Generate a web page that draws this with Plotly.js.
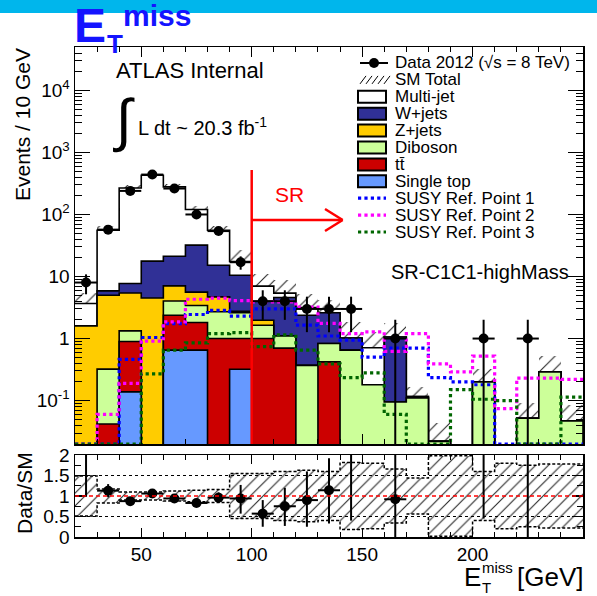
<!DOCTYPE html>
<html><head><meta charset="utf-8">
<script src="https://cdn.plot.ly/plotly-3.0.1.min.js"></script>
<style>html,body{margin:0;padding:0;background:#fff}#plot{width:597px;height:596px}</style>
</head><body><div id="plot"></div>
<script>
// ---------------- data ----------------
const binCenters = [25,35,45,55,65,75,85,95,105,115,125,135,145,155,165,175,185,195,205,215,225,235,245];
const binEdges   = [20,30,40,50,60,70,80,90,100,110,120,130,140,150,160,170,180,190,200,210,220,230,240,250];

const singleTop = [null,null,0.138,null,0.65,0.65,null,0.32,null,null,null,null,null,null,null,null,null,null,null,null,null,null,null];
const ttbar     = [null,0.042,0.76,null,1.73,1.16,1.0,0.68,1.0,0.7,null,0.42,null,null,null,null,null,null,null,null,null,null,null];
const diboson   = [null,0.28,0.43,null,1.66,1.6,1.7,1.6,0.64,0.4,0.37,0.41,0.65,0.18,0.095,0.11,0.022,null,0.2,null,0.052,0.29,0.047];
const zjets     = [1.6,4.67,4.11,4.5,3.02,2.2,2.0,0.15,0.33,null,null,null,null,null,null,null,null,null,null,null,null,null,null];
const wjets     = [null,0.87,2.26,13.2,14.1,26.4,10.5,7.75,2.03,3.5,2.0,1.77,0.37,null,0.965,0.006,null,null,null,null,null,null,null];
const multijet  = [2.07,49.9,260,412,258,88,40.6,7.0,3.0,0.8,0.8,null,null,0.53,null,null,null,null,null,null,null,null,null];

const dataCounts = [8,57,240,440,262,100,54,17,4,4,3,3,3,null,1,null,null,null,1,null,1,null,null];
const smRelErr   = [0.49,0.17,0.1,0.1,0.12,0.14,0.16,0.55,0.55,0.6,0.63,0.6,0.82,0.8,0.66,0.44,0.98,0.98,0.6,0.8,0.75,0.78,0.78];

const susy1 = [0,0,0.46,1.04,1.74,2.44,2.86,2.3,3.0,3.0,1.64,1.1,0.94,0.5,0.7,0.7,0.235,0.2,0.18,0,0,0,0];
const susy2 = [0,0.06,0.19,0.91,1.85,4.3,4.5,4.1,3.9,3.9,3.2,1.76,1.2,1.28,0.62,1.2,0.39,0.29,0.52,0.074,0.23,0.23,0.22];
const susy3 = [0,0,0,0.27,0.65,0.85,1.2,1.25,0.74,1.15,0.65,0.39,0.235,0.28,0.06,0,0,0.15,0.105,0.1,0,0,0.114];

const ratioVals  = [2.15,1.13,0.875,1.06,0.94,0.83,0.96,0.94,0.57,0.75,0.9,1.14,2.9,null,0.92,null,null,null,5,null,20,null,null];
const ratioErrUp = [1.2,0.16,0.06,0.05,0.06,0.08,0.13,0.33,0.33,0.45,0.7,0.78,1.7,null,1.3,null,null,null,5,null,20,null,null];
const ratioErrDn = [1.17,0.16,0.06,0.05,0.06,0.08,0.13,0.37,0.32,0.48,0.65,0.81,2.5,null,0.92,null,null,null,4.55,null,20,null,null];

const legendLabels = ['Data 2012 (\u221As = 8 TeV)','SM Total','Multi-jet','W+jets','Z+jets','Diboson','tt\u0304','Single top','SUSY Ref. Point 1','SUSY Ref. Point 2','SUSY Ref. Point 3'];

// ---------------- styling ----------------
const FONT = 'Liberation Sans, Arial, Helvetica, sans-serif';
const colST = '#6699ff', colTT = '#cc0000', colDB = '#ccff99', colZ = '#ffcc00', colW = '#303096', colMJ = '#ffffff';
const colS1 = '#0000ff', colS2 = '#ff00ff', colS3 = '#006600';
const L = 75, R = 583, T = 47, B = 537;           // plot area in pixels
const px = p => (p - L) / (R - L);
const py = p => (B - p) / (B - T);
const mainBottom = py(444);
const below = 1e-3;                                // below the visible log range

const traces = [];
// cumulative stack levels (bottom -> top)
const comps = [
  {vals: singleTop, color: colST},
  {vals: ttbar, color: colTT},
  {vals: diboson, color: colDB},
  {vals: zjets, color: colZ},
  {vals: wjets, color: colW},
  {vals: multijet, color: colMJ}
];
let run = binCenters.map(() => 0);
const levels = comps.map(c => {
  run = run.map((v, i) => v + (c.vals[i] || 0));
  return {cum: run.slice(), color: c.color};
});
const total = levels[levels.length - 1].cum;

// draw filled step histograms from the top cumulative level down (ROOT THStack style)
levels.slice().reverse().forEach(lv => {
  const xs = [], ys = [];
  lv.cum.forEach((v, i) => {
    const h = v > 0 ? v : below;
    xs.push(binEdges[i], binEdges[i + 1]);
    ys.push(h, h);
  });
  xs.push(binEdges[binEdges.length - 1], binEdges[0]);
  ys.push(below, below);
  traces.push({
    type: 'scatter', mode: 'lines', x: xs, y: ys, fill: 'toself', fillcolor: lv.color,
    line: {color: 'black', width: 1.6}, xaxis: 'x', yaxis: 'y', showlegend: false, hoverinfo: 'skip'
  });
});

// SM total uncertainty band (main)
const bandLo = total.map((t, i) => t > 0 ? Math.max(t * (1 - smRelErr[i]), 1e-5) : null);
const bandH  = total.map((t, i) => t > 0 ? t * (1 + smRelErr[i]) - bandLo[i] : null);
const hatch = {shape: '/', fgcolor: 'rgba(0,0,0,0.85)', bgcolor: 'rgba(0,0,0,0)', size: 9, solidity: 0.12, fillmode: 'replace'};
traces.push({
  type: 'bar', x: binCenters, y: bandH, base: bandLo, width: 10,
  marker: {color: 'rgba(0,0,0,0)', line: {width: 0}, pattern: hatch},
  xaxis: 'x', yaxis: 'y', showlegend: false, hoverinfo: 'skip'
});

// SUSY dotted steps
const floorVal = Math.pow(10, -1.7);
[[susy1, colS1], [susy2, colS2], [susy3, colS3]].forEach(([vals, col]) => {
  const ys = vals.map(v => v > 0 ? v : floorVal);
  ys.push(ys[ys.length - 1]);
  traces.push({
    type: 'scatter', mode: 'lines', x: binEdges, y: ys, line: {shape: 'hv', color: col, width: 3.2, dash: 'dot'},
    xaxis: 'x', yaxis: 'y', showlegend: false, hoverinfo: 'skip'
  });
});

// Data points (main)
traces.push({
  type: 'scatter', mode: 'markers', x: binCenters, y: dataCounts,
  marker: {color: 'black', size: 10},
  error_y: {type: 'sqrt', color: 'black', thickness: 2, width: 0},
  error_x: {type: 'constant', value: 5, color: 'black', thickness: 2, width: 0},
  xaxis: 'x', yaxis: 'y', showlegend: false, hoverinfo: 'skip'
});

// Ratio panel band
traces.push({
  type: 'bar', x: binCenters, y: smRelErr.map(r => 2 * r), base: smRelErr.map(r => 1 - r), width: 10,
  marker: {color: 'rgba(0,0,0,0)', line: {width: 0}, pattern: hatch},
  xaxis: 'x2', yaxis: 'y2', showlegend: false, hoverinfo: 'skip'
});
[1, -1].forEach(s => {
  const ys = smRelErr.map(r => 1 + s * r);
  ys.push(ys[ys.length - 1]);
  traces.push({
    type: 'scatter', mode: 'lines', x: binEdges, y: ys, line: {shape: 'hv', color: 'black', width: 1.5, dash: '3px,2px'},
    xaxis: 'x2', yaxis: 'y2', showlegend: false, hoverinfo: 'skip'
  });
});
traces.push({
  type: 'scatter', mode: 'markers', x: binCenters, y: ratioVals,
  marker: {color: 'black', size: 10},
  error_y: {type: 'data', symmetric: false, array: ratioErrUp, arrayminus: ratioErrDn, color: 'black', thickness: 2, width: 0},
  error_x: {type: 'constant', value: 5, color: 'black', thickness: 2, width: 0},
  xaxis: 'x2', yaxis: 'y2', showlegend: false, hoverinfo: 'skip'
});

// ---------------- axes ----------------
const minorLog = [];
for (let d = -2; d <= 4; d++) for (let k = 2; k <= 9; k++) minorLog.push(k * Math.pow(10, d));
const axLine = {showline: true, linecolor: 'black', linewidth: 1.5, mirror: 'allticks', zeroline: false, showgrid: false, tickcolor: 'black', ticks: 'inside'};

const layout = {
  width: 597, height: 596, autosize: false,
  margin: {l: L, r: 597 - R, t: T, b: 596 - B, pad: 0},
  paper_bgcolor: 'white', plot_bgcolor: 'white',
  font: {family: FONT, color: 'black', size: 19},
  barmode: 'overlay', bargap: 0, showlegend: false,
  xaxis: Object.assign({}, axLine, {anchor: 'y', domain: [0, 1], range: [20, 250], tickmode: 'linear', tick0: 0, dtick: 50,
    ticklen: 10, tickwidth: 1.2, showticklabels: false,
    minor: {ticks: 'inside', dtick: 10, tick0: 0, ticklen: 5, tickcolor: 'black', tickwidth: 1, showgrid: false}}),
  xaxis2: Object.assign({}, axLine, {anchor: 'y2', domain: [0, 1], matches: 'x', range: [20, 250], tickmode: 'linear', tick0: 0, dtick: 50,
    ticklen: 9, tickwidth: 1.2, tickfont: {size: 19, family: FONT},
    minor: {ticks: 'inside', dtick: 10, tick0: 0, ticklen: 5, tickcolor: 'black', tickwidth: 1, showgrid: false}}),
  yaxis: Object.assign({}, axLine, {anchor: 'x', domain: [mainBottom, 1], type: 'log', range: [-1.7, 4.7],
    tickmode: 'array', tickvals: [0.1, 1, 10, 100, 1000, 10000],
    ticktext: ['10<sup>-1</sup>', '1', '10', '10<sup>2</sup>', '10<sup>3</sup>', '10<sup>4</sup>'],
    ticklen: 15, tickwidth: 1.2, tickfont: {size: 19, family: FONT},
    minor: {ticks: 'inside', tickmode: 'array', tickvals: minorLog, ticklen: 7, tickcolor: 'black', tickwidth: 1, showgrid: false}}),
  yaxis2: Object.assign({}, axLine, {anchor: 'x2', domain: [0, py(455)], range: [0, 2],
    tickmode: 'array', tickvals: [0, 0.5, 1, 1.5, 2], ticktext: ['0', '0.5', '1', '1.5', '2'],
    ticklen: 11, tickwidth: 1.2, tickfont: {size: 19, family: FONT},
    minor: {ticks: 'inside', dtick: 0.25, tick0: 0, ticklen: 6, tickcolor: 'black', tickwidth: 1, showgrid: false}}),
  shapes: [], annotations: []
};

const S = layout.shapes, A = layout.annotations;
// top banner
S.push({type: 'rect', xref: 'paper', yref: 'paper', x0: px(0), x1: px(597), y0: py(13), y1: py(0), fillcolor: '#00b6ec', line: {width: 0}, layer: 'below'});
// SR line and arrow
S.push({type: 'line', xref: 'x', yref: 'paper', x0: 100, x1: 100, y0: mainBottom, y1: py(170), line: {color: '#ff0000', width: 2.5}});
S.push({type: 'line', xref: 'x', yref: 'paper', x0: 100, x1: 141, y0: py(220), y1: py(220), line: {color: '#ff0000', width: 2.5}});
S.push({type: 'line', xref: 'x', yref: 'paper', x0: 133.2, x1: 141.2, y0: py(209), y1: py(220), line: {color: '#ff0000', width: 2.5}});
S.push({type: 'line', xref: 'x', yref: 'paper', x0: 133.2, x1: 141.2, y0: py(231), y1: py(220), line: {color: '#ff0000', width: 2.5}});
// ratio panel reference lines
S.push({type: 'line', xref: 'x2', yref: 'y2', x0: 20, x1: 250, y0: 1.5, y1: 1.5, line: {color: 'black', width: 1, dash: 'dot'}});
S.push({type: 'line', xref: 'x2', yref: 'y2', x0: 20, x1: 250, y0: 0.5, y1: 0.5, line: {color: 'black', width: 1, dash: 'dot'}});
S.push({type: 'line', xref: 'x2', yref: 'y2', x0: 20, x1: 250, y0: 1, y1: 1, line: {color: '#ff0000', width: 1.5, dash: '4px,3px'}});

// legend (manual, ROOT style)
const legY0 = 63, legDY = 16.9, symL = 358, symR = 386, txtX = 393;
const boxColors = [colMJ, colW, colZ, colDB, colTT, colST];
const lineColors = [colS1, colS2, colS3];
legendLabels.forEach((lab, i) => {
  const yc = legY0 + i * legDY;
  A.push({xref: 'paper', yref: 'paper', x: px(txtX), y: py(yc), xanchor: 'left', yanchor: 'middle', showarrow: false,
    text: lab, font: {size: 17, family: FONT, color: 'black'}});
  if (i === 0) {
    S.push({type: 'line', xref: 'paper', yref: 'paper', x0: px(360), x1: px(388), y0: py(yc), y1: py(yc), line: {color: 'black', width: 2}});
    S.push({type: 'circle', xref: 'paper', yref: 'paper', x0: px(369), x1: px(379), y0: py(yc + 5), y1: py(yc - 5), fillcolor: 'black', line: {color: 'black', width: 0}});
  } else if (i === 1) {
    for (let k = 0; k < 5; k++) {
      const x0 = 360 + k * 6;
      S.push({type: 'line', xref: 'paper', yref: 'paper', x0: px(x0), x1: px(x0 + 6), y0: py(yc + 4), y1: py(yc - 4), line: {color: 'black', width: 1}});
    }
  } else if (i < 8) {
    S.push({type: 'rect', xref: 'paper', yref: 'paper', x0: px(symL), x1: px(symR), y0: py(yc + 6), y1: py(yc - 6),
      fillcolor: boxColors[i - 2], line: {color: 'black', width: 2}});
  } else {
    S.push({type: 'line', xref: 'paper', yref: 'paper', x0: px(symL), x1: px(symR), y0: py(yc), y1: py(yc),
      line: {color: lineColors[i - 8], width: 3.2, dash: 'dot'}});
  }
});

// texts
const txt = (text, x, y, size, opts) => A.push(Object.assign({xref: 'paper', yref: 'paper', x: px(x), y: py(y), xanchor: 'left', yanchor: 'middle',
  showarrow: false, text: text, font: {size: size, family: FONT, color: 'black'}}, opts || {}));
const blue = '#1414ff';
txt('<b>E</b>', 72, 26, 48, {font: {size: 48, family: FONT, color: blue}});
txt('<b>T</b>', 105, 44, 26, {font: {size: 26, family: FONT, color: blue}});
txt('<b>miss</b>', 121, 15, 30, {font: {size: 30, family: FONT, color: blue}});
txt('ATLAS Internal', 114, 70, 22);
txt('\u222B', 111, 120, 58);
txt('L dt ~ 20.3 fb<sup>-1</sup>', 136, 126, 20);
txt('SR-C1C1-highMass', 389, 272, 20);
txt('SR', 289, 195, 21, {xanchor: 'center', font: {size: 21, family: FONT, color: '#ff0000'}});
txt('Events / 10 GeV', 22, 125, 21, {xanchor: 'center', textangle: -90});
txt('Data/SM', 24, 493, 21, {xanchor: 'center', textangle: -90});
txt('E', 462, 577, 26);
txt('T', 480, 587, 15);
txt('miss', 480, 567, 15);
txt('[GeV]', 585, 577, 26, {xanchor: 'right'});

Plotly.newPlot('plot', traces, layout, {displayModeBar: false, staticPlot: true});
</script>
</body></html>
